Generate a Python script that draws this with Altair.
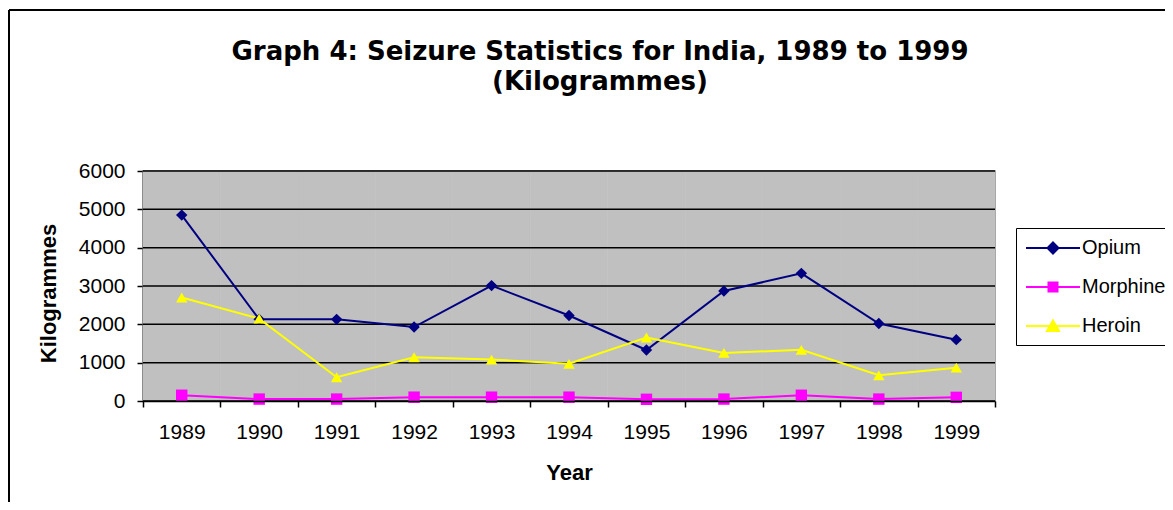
import altair as alt
import pandas as pd

years = ["1989", "1990", "1991", "1992", "1993", "1994", "1995", "1996", "1997", "1998", "1999"]
opium = [4850, 2130, 2130, 1930, 3010, 2230, 1330, 2870, 3330, 2020, 1600]
morphine = [150, 50, 50, 100, 100, 100, 45, 50, 150, 50, 95]
heroin = [2700, 2150, 620, 1140, 1080, 970, 1655, 1255, 1335, 670, 870]

series_names = ["Opium", "Morphine", "Heroin"]
series_colors = ["#000080", "#FF00FF", "#FFFF00"]
marker_shapes = ["diamond", "square", "triangle-up"]
legend_paths = [
    "M-2.7,0H2.7M0,-0.55L0.55,0L0,0.55L-0.55,0Z",
    "M-2.7,0H2.7M-0.45,-0.45H0.45V0.45H-0.45Z",
    "M-2.7,0H2.7M0,-0.55L0.6,0.5L-0.6,0.5Z",
]
y_ticks = [0, 1000, 2000, 3000, 4000, 5000, 6000]
y_min, y_max = 0, 6000

rows = []
for name, vals in zip(series_names, [opium, morphine, heroin]):
    for yr, v in zip(years, vals):
        rows.append({"Year": yr, "Kilogrammes": v, "series": name})
df = pd.DataFrame(rows)

bg_df = pd.DataFrame({"Year": years, "Kilogrammes": [y_min] * len(years), "top": [y_max] * len(years)})
grid_df = pd.DataFrame({"Kilogrammes": y_ticks})

TITLE_FONT = "DejaVu Sans"
FONT = "Liberation Sans"

y_scale = alt.Scale(domain=[y_min, y_max], nice=False)

x_enc = alt.X(
    "Year:O",
    sort=years,
    scale=alt.Scale(type="band", paddingInner=0, paddingOuter=0),
    axis=alt.Axis(
        title="Year", labelAngle=0, tickBand="extent", tickSize=6,
        labelPadding=14, titlePadding=20, labelFont=FONT, labelFontSize=21,
        titleFont=FONT, titleFontSize=22, titleFontWeight="bold",
        domainColor="black", domainWidth=1.5, tickColor="black", tickWidth=1.5,
        labelColor="black", titleColor="black", grid=False,
    ),
)
y_enc = alt.Y(
    "Kilogrammes:Q",
    scale=y_scale,
    axis=alt.Axis(
        title="Kilogrammes", values=y_ticks, format="d", tickSize=6, labelPadding=12,
        titlePadding=18, titleY=122, labelFont=FONT, labelFontSize=21,
        titleFont=FONT, titleFontSize=22, titleFontWeight="bold",
        domainColor="black", domainWidth=1.5, tickColor="black", tickWidth=1.5,
        labelColor="black", titleColor="black", grid=False,
    ),
)

color_scale = alt.Scale(domain=series_names, range=series_colors)

# plot-area background, one grey cell per year band
bg = alt.Chart(bg_df).mark_rect(
    color="#C0C0C0", stroke="#C0C0C0", strokeWidth=0.6
).encode(x=x_enc, y=y_enc, y2="top:Q")

grid = alt.Chart(grid_df).mark_rule(color="black", strokeWidth=1.5).encode(y=y_enc)

lines = alt.Chart(df).mark_line(strokeWidth=2).encode(
    x=x_enc, y=y_enc,
    color=alt.Color("series:N", scale=color_scale, legend=None),
)

points = alt.Chart(df).mark_point(filled=True, size=130, opacity=1).encode(
    x=x_enc, y=y_enc,
    color=alt.Color("series:N", scale=color_scale, legend=None),
    shape=alt.Shape("series:N", scale=alt.Scale(domain=series_names, range=marker_shapes), legend=None),
)

leg = alt.Legend(
    title=None, orient="none", legendX=873, legendY=57,
    strokeColor="black", fillColor="white", padding=9,
    symbolSize=400, symbolStrokeWidth=2, symbolOffset=17, labelOffset=18,
    labelFont=FONT, labelFontSize=20, labelColor="black", rowPadding=18,
    symbolOpacity=1, labelLimit=300,
)

legend_layer = alt.Chart(df).transform_filter("false").mark_point(filled=True, opacity=1).encode(
    x=x_enc, y=y_enc,
    color=alt.Color("series:N", scale=color_scale, legend=leg),
    stroke=alt.Stroke("series:N", scale=color_scale, legend=leg),
    shape=alt.Shape("series:N", scale=alt.Scale(domain=series_names, range=legend_paths), legend=leg),
)

frame_df = pd.DataFrame({"k": [0]})
top_rule = alt.Chart(frame_df).mark_rule(color="black", strokeWidth=2).encode(
    x=alt.value(-134), x2=alt.value(1100), y=alt.value(-161)
)
left_rule = alt.Chart(frame_df).mark_rule(color="black", strokeWidth=2).encode(
    x=alt.value(-134), y=alt.value(-161), y2=alt.value(400)
)

chart = alt.layer(top_rule, left_rule, bg, grid, lines, points, legend_layer).resolve_scale(
    color="independent", shape="independent", stroke="independent"
).properties(
    width=852,
    height=230,
    autosize=alt.AutoSizeParams(type="none"),
    padding={"left": 135, "top": 163, "right": 170, "bottom": 101},
    title=alt.TitleParams(
        text=["Graph 4: Seizure Statistics for India, 1989 to 1999", "(Kilogrammes)"],
        font=TITLE_FONT, fontSize=26, fontWeight="bold", color="black",
        anchor="middle", dx=31, offset=-86, lineHeight=30,
    ),
).configure_view(
    stroke="#808080", strokeWidth=1.5
)

chart.save("out.html", embed_options={"renderer": "svg", "actions": False})
